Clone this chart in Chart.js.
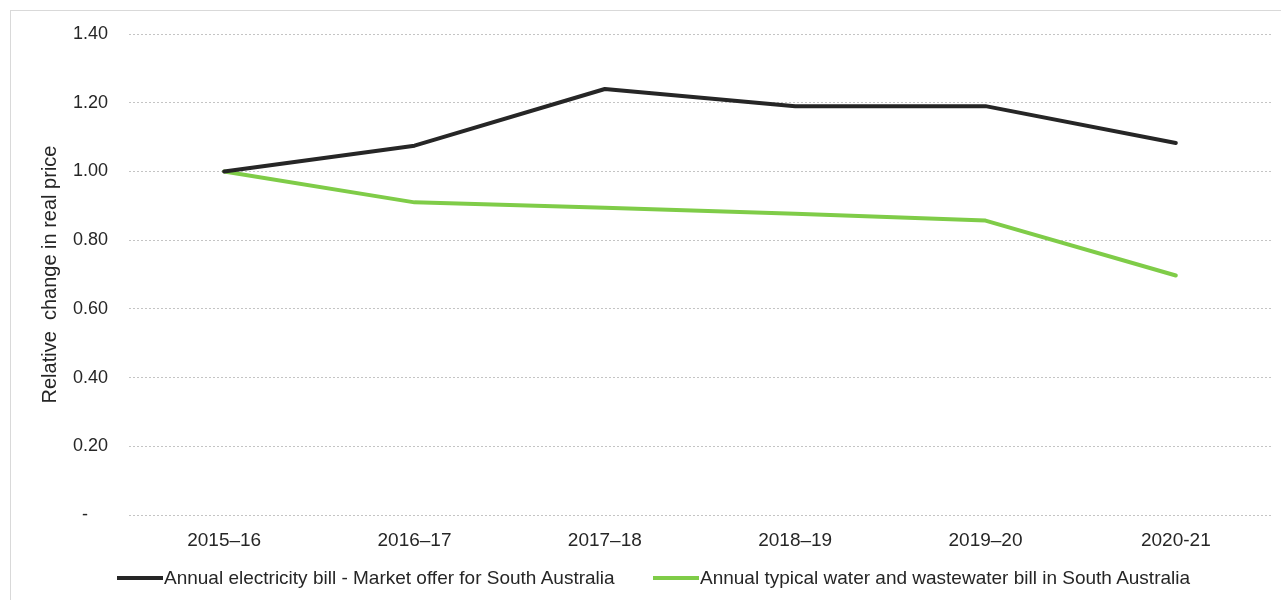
<!DOCTYPE html>
<html>
<head>
<meta charset="utf-8">
<script src="https://cdn.jsdelivr.net/npm/chart.js@4"></script>
<style>
  body { margin: 0; background: #fff; }
  #wrap { position: relative; width: 1281px; height: 600px; }
  #frame { position: absolute; left: 10px; top: 10px; right: 0; bottom: 0;
           border-top: 1px solid #d9d9d9; border-left: 1px solid #d9d9d9; }
  .leg { position: absolute; top: 566px; font: 19px "Liberation Sans", Arial, sans-serif;
         color: #262626; white-space: nowrap; line-height: 24px; }
  .leg i { display: inline-block; width: 46px; height: 4px; vertical-align: middle;
           margin-right: 1px; position: relative; top: -1px; }
</style>
</head>
<body>
<div id="wrap">
  <div id="frame"></div>
  <canvas id="chart1" width="1281" height="600"></canvas>
  <div class="leg" id="leg1" style="left:117px"><i style="background:#262626"></i></div>
  <div class="leg" id="leg2" style="left:653px"><i style="background:#7fcc48"></i></div>
</div>
<script>
// years on the x axis
const years = ['2015–16', '2016–17', '2017–18', '2018–19', '2019–20', '2020-21'];

// relative change in real price
const electricity = [1.00, 1.075, 1.24, 1.19, 1.19, 1.083];
const water = [1.00, 0.91, 0.894, 0.877, 0.857, 0.697];

const seriesNames = [
    'Annual electricity bill - Market offer for South Australia',
    'Annual typical water and wastewater bill in South Australia'
];

const yTicks = [0, 0.2, 0.4, 0.6, 0.8, 1.0, 1.2, 1.4];

const font = '"Liberation Sans", Arial, sans-serif';

// legend text (html, below the chart)
document.getElementById('leg1').append(seriesNames[0]);
document.getElementById('leg2').append(seriesNames[1]);

const ctx = document.querySelector('#chart1');

const chart = new Chart(ctx, {
    type: 'line',
    data: {
        labels: years,
        datasets: [{
            label: seriesNames[0],
            data: electricity,
            borderColor: '#262626',
            borderWidth: 4
        }, {
            label: seriesNames[1],
            data: water,
            borderColor: '#7fcc48',
            borderWidth: 4
        }]
    },
    options: {
        responsive: false,
        animation: false,
        layout: { padding: { left: 31, right: 10, top: 34, bottom: 0 } },
        elements: {
            point: { radius: 0 },
            line: { tension: 0, borderCapStyle: 'round', borderJoinStyle: 'round' }
        },
        plugins: {
            legend: { display: false },
            tooltip: { enabled: false }
        },
        scales: {
            x: {
                offset: true,
                grid: { display: false, drawTicks: false },
                border: { display: false },
                ticks: {
                    padding: 14,
                    color: '#262626',
                    font: { family: font, size: 19 }
                },
                afterFit: scale => { scale.height = 85; }
            },
            y: {
                min: 0,
                max: 1.4,
                afterBuildTicks: scale => {
                    scale.ticks = yTicks.map(v => ({ value: v }));
                },
                grid: { color: '#c4c4c4', drawTicks: false, lineWidth: 1 },
                border: { display: false, dash: [2, 2] },
                ticks: {
                    padding: 21,
                    color: '#262626',
                    font: { family: font, size: 18 },
                    callback: v => v === 0 ? '-    ' : v.toFixed(2)
                },
                title: {
                    display: true,
                    text: 'Relative  change in real price',
                    color: '#262626',
                    font: { family: font, size: 20 },
                    padding: { top: 7, bottom: 0 }
                },
                afterFit: scale => { scale.width = 98; }
            }
        }
    }
});
</script>
</body>
</html>
